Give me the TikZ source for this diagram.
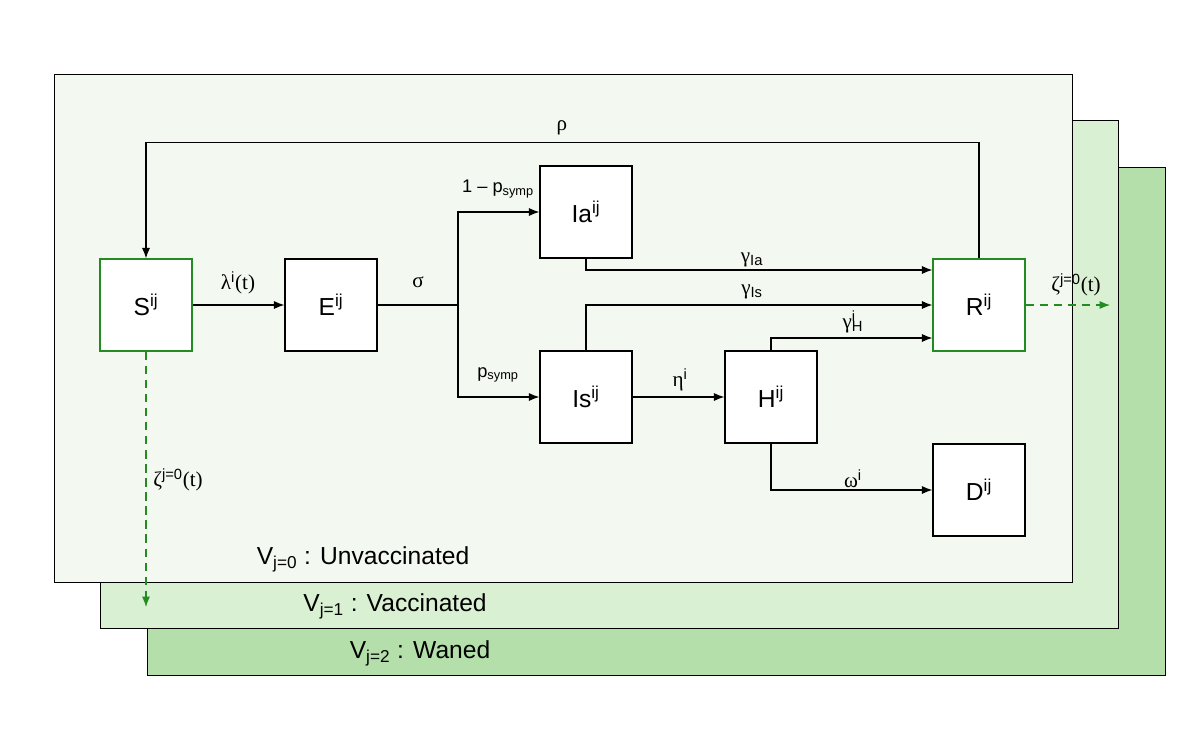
\documentclass[tikz,border=0pt]{standalone}
\usepackage{fontspec}
\setmainfont{Liberation Sans}
\newfontfamily\grk{Liberation Serif}
\usetikzlibrary{arrows.meta,calc,positioning}
\definecolor{unvaccfill}{RGB}{243,248,240}
\definecolor{vaccfill}{RGB}{217,240,211}
\definecolor{wanedfill}{RGB}{180,223,170}
\definecolor{flowgreen}{RGB}{34,139,34}

\begin{document}
\begin{tikzpicture}[x=0.025cm,y=-0.025cm,>={Latex[length=2.6mm,width=2mm]},
                    line width=0.75pt,
                    main node/.style={rectangle,fill=white,draw,line width=0.9pt,minimum size=2.3cm,inner sep=0pt,font=\fontsize{17.5}{20}\selectfont},
                    open node/.style={main node,draw=flowgreen},
                    rate label/.style={font=\fontsize{15}{18}\selectfont},
                    prob label/.style={font=\fontsize{13}{15}\selectfont},
                    layer label/.style={font=\fontsize{17.5}{20}\selectfont},
                    vacc flow/.style={->,color=flowgreen,dash pattern=on 6pt off 4pt}]
\useasboundingbox (0,0) rectangle (1200,750);
 \foreach \k/\col in {2/wanedfill,1/vaccfill,0/unvaccfill}
   \draw[fill=\col,line width=0.7pt] (54+46.5*\k,74+46.5*\k) rectangle ++(1018,508);

\node[layer label] (L0) at (363,559) {V\textsubscript{j=0} : Unvaccinated};
\node[layer label] (L1) at (395,606) {V\textsubscript{j=1} : Vaccinated};
\node[layer label] (L2) at (420,653) {V\textsubscript{j=2} : Waned};

\node[open node] (S) at (146,305) {S\textsuperscript{ij}};
\node[main node] (E) at (331,305) {E\textsuperscript{ij}};
\node[main node] (Ia) at (586,212) {Ia\textsuperscript{ij}};
\node[main node] (Is) at (586,397) {Is\textsuperscript{ij}};
\node[main node] (H) at (771,397) {H\textsuperscript{ij}};
\node[open node] (R) at (979,305) {R\textsuperscript{ij}};
\node[main node] (D) at (979,490) {D\textsuperscript{ij}};

\node[rate label] (RhoLabel) at (562,128) {\grk ρ};
\node[rate label] (LambdaLabel) at (238,283) {{\grk λ}\textsuperscript{i}{\grk (t)}};
\node[rate label] (SigmaLabel) at (418,282) {\grk σ};
\node[prob label] (AsympLabel) at (498,189) {1 – p\textsubscript{symp}};
\node[prob label] (SympLabel) at (498,375) {p\textsubscript{symp}};
\node[rate label] (GammaIaLabel) at (752,260) {{\grk γ}\textsubscript{Ia}};
\node[rate label] (GammaIsLabel) at (752,292) {{\grk γ}\textsubscript{Is}};
\node[rate label] (GammaHLabel) at (853,322) {{\grk γ}\rlap{\textsuperscript{i}}\textsubscript{H}};
\node[rate label] (EtaLabel) at (680,380) {{\grk η}\textsuperscript{i}};
\node[rate label] (OmegaLabel) at (853,479) {{\grk ω}\textsuperscript{i}};
\node[rate label] (ZetaSLabel) at (178,480) {{\grk ζ}\textsuperscript{j=0}{\grk (t)}};
\node[rate label] (ZetaRLabel) at (1076,285) {{\grk ζ}\textsuperscript{j=0}{\grk (t)}};

\coordinate (Split) at (458,305);
\coordinate (SOut) at (146,607);
\coordinate (ROut) at (1110,305);

\draw[->] (S) -- (E);
\draw (E) -- (Split);
\draw[->] (Split) |- (Ia);
\draw[->] (Split) |- (Is);
\draw[->] (Is) -- (H);
\draw[->] (Ia.south) |- ($(R.west)+(0,-35)$);
\draw[->] (Is.north) |- (R.west);
\draw[->] (H.north) |- ($(R.west)+(0,33)$);
\draw[->] (H.south) |- (D.west);
\draw[->] (R.north) -- ++(0,-116) -| (S.north);

\draw[vacc flow] (S.south) -- (SOut);
\draw[vacc flow] (R.east) -- (ROut);
\end{tikzpicture}
\end{document}
